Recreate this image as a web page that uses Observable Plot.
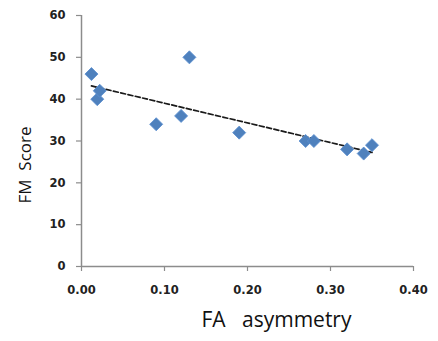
<!DOCTYPE html>
<html>
<head>
<meta charset="utf-8">
<script src="https://cdn.jsdelivr.net/npm/d3@7"></script>
<script src="https://cdn.jsdelivr.net/npm/@observablehq/plot@0.6"></script>
<style>
  html, body { margin: 0; padding: 0; background: #fff; }
  svg text { white-space: pre; }
</style>
</head>
<body>
<div id="chart"></div>
<script>
const faAsymmetry = [0.012, 0.019, 0.022, 0.09, 0.12, 0.13, 0.19, 0.27, 0.28, 0.32, 0.34, 0.35];
const fmScore     = [46, 40, 42, 34, 36, 50, 32, 30, 30, 28, 27, 29];
const xTicks = [0, 0.1, 0.2, 0.3, 0.4];
const yTicks = [0, 10, 20, 30, 40, 50, 60];
const xLabel = "FA   asymmetry";
const yLabel = "FM  Score";

const data = faAsymmetry.map((x, i) => ({x, y: fmScore[i]}));
const axisColor = "#8c8c8c";
const tickFont = {fontFamily: "'DejaVu Sans', sans-serif", fontWeight: "bold", fontSize: 11.5, fill: "#222"};
const labelFont = "'Open Sans', sans-serif";

const chart = Plot.plot({
  width: 438,
  height: 341,
  marginLeft: 81,
  marginRight: 25,
  marginTop: 15,
  marginBottom: 75,
  style: {fontFamily: labelFont, background: "#fff", overflow: "visible"},
  x: {domain: [0, 0.4]},
  y: {domain: [0, 60]},
  marks: [
    Plot.ruleX([0], {stroke: axisColor, strokeWidth: 1.5}),
    Plot.ruleY([0], {stroke: axisColor, strokeWidth: 1.5}),
    Plot.axisY(yTicks, {tickSize: 5, tickPadding: 11, stroke: axisColor, strokeWidth: 1.2, label: null, ...tickFont}),
    Plot.axisX(xTicks, {tickSize: 5, tickPadding: 14, stroke: axisColor, strokeWidth: 1.2, label: null, tickFormat: d3.format(".2f"), ...tickFont}),
    Plot.linearRegressionY(data, {x: "x", y: "y", ci: 0, stroke: "#1a1a1a", strokeWidth: 1.7, strokeDasharray: "5,2.5"}),
    Plot.dot(data, {x: "x", y: "y", symbol: "square", rotate: 45, r: 5.2, fill: "#4f81bd", stroke: "#5b8fd0", strokeWidth: 0.8}),
    Plot.text([yLabel], {frameAnchor: "left", textAnchor: "middle", rotate: -90, dx: -56, dy: 24, fontSize: 17, fill: "#111", fontFamily: labelFont}),
    Plot.text([xLabel], {frameAnchor: "bottom", dx: 29, dy: 60, fontSize: 21, fill: "#111", fontFamily: labelFont})
  ]
});
document.getElementById("chart").appendChild(chart);
</script>
</body>
</html>
